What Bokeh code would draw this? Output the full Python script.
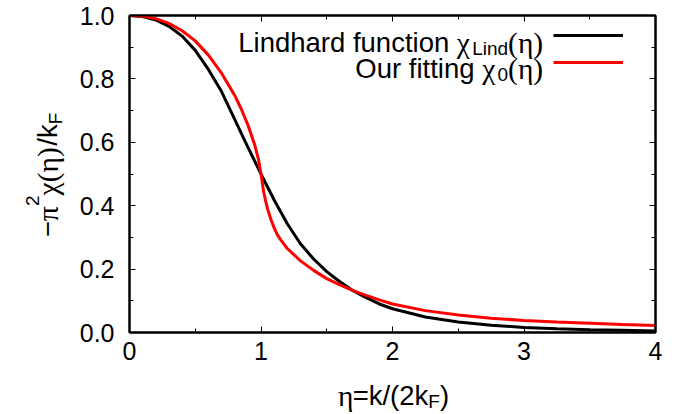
from bokeh.plotting import figure
from bokeh.models import Range1d, LinearAxis, Label, Legend, LegendItem, FixedTicker
from bokeh.layouts import row, column
from bokeh.embed import file_html
from bokeh.resources import INLINE
import math

# ---- data ----
eta_lind = [0.0, 0.1, 0.2, 0.3, 0.4, 0.5, 0.6, 0.7, 0.8, 0.9, 1.0, 1.1, 1.2, 1.3, 1.4, 1.5,
            1.6, 1.7, 1.8, 1.9, 2.0, 2.25, 2.5, 2.75, 3.0, 3.25, 3.5, 3.75, 4.0]
chi_lind = [1.000, 0.997, 0.986, 0.966, 0.935, 0.890, 0.830, 0.760, 0.672, 0.585, 0.500, 0.418,
            0.343, 0.280, 0.232, 0.192, 0.160, 0.132, 0.110, 0.090, 0.075, 0.049, 0.033,
            0.023, 0.016, 0.012, 0.009, 0.007, 0.005]

eta_fit = [0.0, 0.1, 0.2, 0.3, 0.4, 0.5, 0.6, 0.7, 0.8, 0.85, 0.9, 0.95, 0.98, 1.0, 1.02,
           1.035, 1.05, 1.075, 1.1, 1.125, 1.15, 1.2, 1.3, 1.4, 1.5, 1.6, 1.7, 1.8, 1.9, 2.0,
           2.25, 2.5, 2.75, 3.0, 3.25, 3.5, 3.75, 4.0]
chi_fit = [1.000, 0.998, 0.990, 0.975, 0.952, 0.920, 0.875, 0.818, 0.748, 0.705, 0.655, 0.595,
           0.548, 0.500, 0.445, 0.415, 0.390, 0.357, 0.330, 0.308, 0.292, 0.265, 0.226, 0.196,
           0.170, 0.150, 0.132, 0.117, 0.103, 0.090, 0.069, 0.055, 0.045, 0.038, 0.033, 0.029,
           0.025, 0.022]

x_ticks = [0, 1, 2, 3, 4]
x_tick_labels = ["0", "1", "2", "3", "4"]
y_ticks = [0.0, 0.2, 0.4, 0.6, 0.8, 1.0]
y_tick_labels = ["0.0", "0.2", "0.4", "0.6", "0.8", "1.0"]

SANS = "Liberation Sans"
SERIF = "Liberation Serif"
FS = 25       # tick labels
LFS = 27.5    # legend / axis titles
SUB = 19

x_minor = [(a + b) / 2 for a, b in zip(x_ticks[:-1], x_ticks[1:])]
y_minor = [(a + b) / 2 for a, b in zip(y_ticks[:-1], y_ticks[1:])]

# page layout: y-title strip | main plot ; x-title strip spans the full width below
YW = 75
XH = 42
PAGE_W, PAGE_H = 675, 414
MAIN_H = PAGE_H - XH          # 372
MAIN_W = PAGE_W - YW
FRAME_H = 332 - 15
BL, BR, BT, BB = 129 - YW, PAGE_W - 655, 15, MAIN_H - 332

p = figure(width=MAIN_W, height=MAIN_H, title=None,
           x_range=Range1d(0, 4), y_range=Range1d(0, 1),
           output_backend="svg", toolbar_location=None,
           min_border_left=BL, min_border_right=BR, min_border_top=BT, min_border_bottom=BB)
p.background_fill_color = "white"
p.border_fill_color = "white"
p.outline_line_color = "black"
p.outline_line_width = 2
p.xgrid.visible = False
p.ygrid.visible = False


def style_axis(ax, ticks, minor, labels, show):
    ax.ticker = FixedTicker(ticks=ticks, minor_ticks=minor)
    ax.axis_line_color = "black"
    ax.axis_line_width = 2
    ax.major_tick_in = 6
    ax.major_tick_out = 0
    ax.minor_tick_in = 4
    ax.minor_tick_out = 0
    ax.major_tick_line_color = "black"
    ax.minor_tick_line_color = "black"
    ax.major_tick_line_width = 1
    ax.minor_tick_line_width = 1
    if show:
        ax.major_label_overrides = {t: l for t, l in zip(ticks, labels)}
        ax.major_label_text_font = SANS
        ax.major_label_text_font_size = f"{FS}px"
        ax.major_label_text_color = "black"
    else:
        ax.major_label_text_font_size = "0px"
        ax.major_label_text_alpha = 0
        ax.major_label_standoff = 0


style_axis(p.xaxis[0], x_ticks, x_minor, x_tick_labels, True)
style_axis(p.yaxis[0], y_ticks, y_minor, y_tick_labels, True)
p.xaxis[0].major_label_standoff = 9
p.yaxis[0].major_label_standoff = 15

top = LinearAxis()
right = LinearAxis()
style_axis(top, x_ticks, x_minor, x_tick_labels, False)
style_axis(right, y_ticks, y_minor, y_tick_labels, False)
p.add_layout(top, "above")
p.add_layout(right, "right")

r_lind = p.line(eta_lind, chi_lind, line_color="black", line_width=3)
r_fit = p.line(eta_fit, chi_fit, line_color="#ff0000", line_width=3)

# legend sample lines (gnuplot style, text drawn separately)
leg = Legend(items=[LegendItem(label=" ", renderers=[r_lind]),
                    LegendItem(label=" ", renderers=[r_fit])],
             location=(424, 260), orientation="vertical",
             glyph_width=70, glyph_height=20, label_height=20, label_width=0,
             label_standoff=0, spacing=7, padding=0, margin=0,
             label_text_font_size="1px",
             background_fill_alpha=0, border_line_color=None)
p.add_layout(leg, "center")

# ---- rich text helper ----
W_SANS = {' ': 0.278, 'L': 0.556, 'i': 0.222, 'n': 0.556, 'd': 0.556, 'h': 0.556, 'a': 0.556,
          'r': 0.333, 'f': 0.278, 'u': 0.556, 'c': 0.5, 't': 0.278, 'o': 0.556, 'O': 0.778,
          'g': 0.556, 'k': 0.5, 'F': 0.611, '(': 0.333, ')': 0.333, '/': 0.278, '2': 0.556,
          '=': 0.584, '\u2212': 0.584, '0': 0.556}
W_SERIF = {'\u03c7': 0.52, '\u03b7': 0.5, '\u03c0': 0.52, '(': 0.333, ')': 0.333}


def text_w(s, font, size):
    tbl = W_SERIF if font == SERIF else W_SANS
    return sum(tbl.get(ch, 0.55) for ch in s) * size


def rich(fig, pieces, x, y, align="left", vertical=False, offsets=False, yscale=1.0):
    total = sum(text_w(t, f, s) for t, f, s, _ in pieces)
    start = 0.0
    if align == "right":
        start = -total
    elif align == "center":
        start = -total / 2
    cum = start
    for t, f, s, shift in pieces:
        if offsets:
            lab = Label(x=x[0], y=y[0], x_offset=x[1] + cum, y_offset=y[1] + shift,
                        text=t, text_font=f, text_font_size=f"{s}px", text_color="black",
                        text_align="left", text_baseline="alphabetic")
        elif vertical:
            lab = Label(x=x - shift, y=y + cum * yscale, text=t, angle=math.pi / 2,
                        text_font=f, text_font_size=f"{s}px", text_color="black",
                        text_align="left", text_baseline="alphabetic")
        else:
            lab = Label(x=x + cum, y=y + shift, text=t,
                        text_font=f, text_font_size=f"{s}px", text_color="black",
                        text_align="left", text_baseline="alphabetic")
        fig.add_layout(lab)
        cum += text_w(t, f, s)


# legend texts (right aligned, anchored at the top-right corner of the frame)
rich(p, [("Lindhard function ", SANS, LFS, 0), ("\u03c7", SERIF, LFS + 2, 0),
         ("Lind", SANS, SUB, -6), ("(\u03b7)", SERIF, LFS + 2, 0)],
     (4, -113), (1, -27), align="right", offsets=True)
rich(p, [("Our fitting ", SANS, LFS, 0), ("\u03c7", SERIF, LFS + 2, 0),
         ("0", SANS, SUB, -6), ("(\u03b7)", SERIF, LFS + 2, 0)],
     (4, -113), (1, -53), align="right", offsets=True)


def strip(w, h, yr):
    f = figure(width=w, height=h, title=None, x_range=Range1d(0, w), y_range=yr,
               output_backend="svg", toolbar_location=None,
               x_axis_location=None, y_axis_location=None,
               min_border=0, min_border_left=0, min_border_right=0,
               min_border_top=0, min_border_bottom=0)
    f.outline_line_color = None
    f.xgrid.visible = False
    f.ygrid.visible = False
    f.background_fill_color = "white"
    f.border_fill_color = "white"
    return f


# y axis title strip (its frame is aligned with the main frame; same 0..1 range)
ys = strip(YW, MAIN_H, Range1d(0, 1))
rich(ys, [("\u2212", SANS, LFS, 0), ("\u03c0", SERIF, LFS + 2, 0), ("2", SANS, SUB, 15),
          ("\u03c7(\u03b7)", SERIF, LFS + 2, 0), ("/k", SANS, LFS, 0), ("F", SANS, SUB, -8)],
     47, 0.5 - (174.5 - 173.5) / FRAME_H, align="center", vertical=True, yscale=1.0 / FRAME_H)

# x axis title strip (full page width, below)
xs = strip(PAGE_W, XH, Range1d(0, XH))
rich(xs, [("\u03b7", SERIF, LFS + 2, 0), ("=k/(2k", SANS, LFS, 0), ("F", SANS, SUB, -6),
          (")", SANS, LFS, 0)],
     393, PAGE_H - 395, align="center")

for obj in (ys, p, xs):
    obj.align = "start"

layout = column(row(ys, p, spacing=0), xs, spacing=0)

html = file_html(layout, INLINE)
open("out.html", "w").write(html)
